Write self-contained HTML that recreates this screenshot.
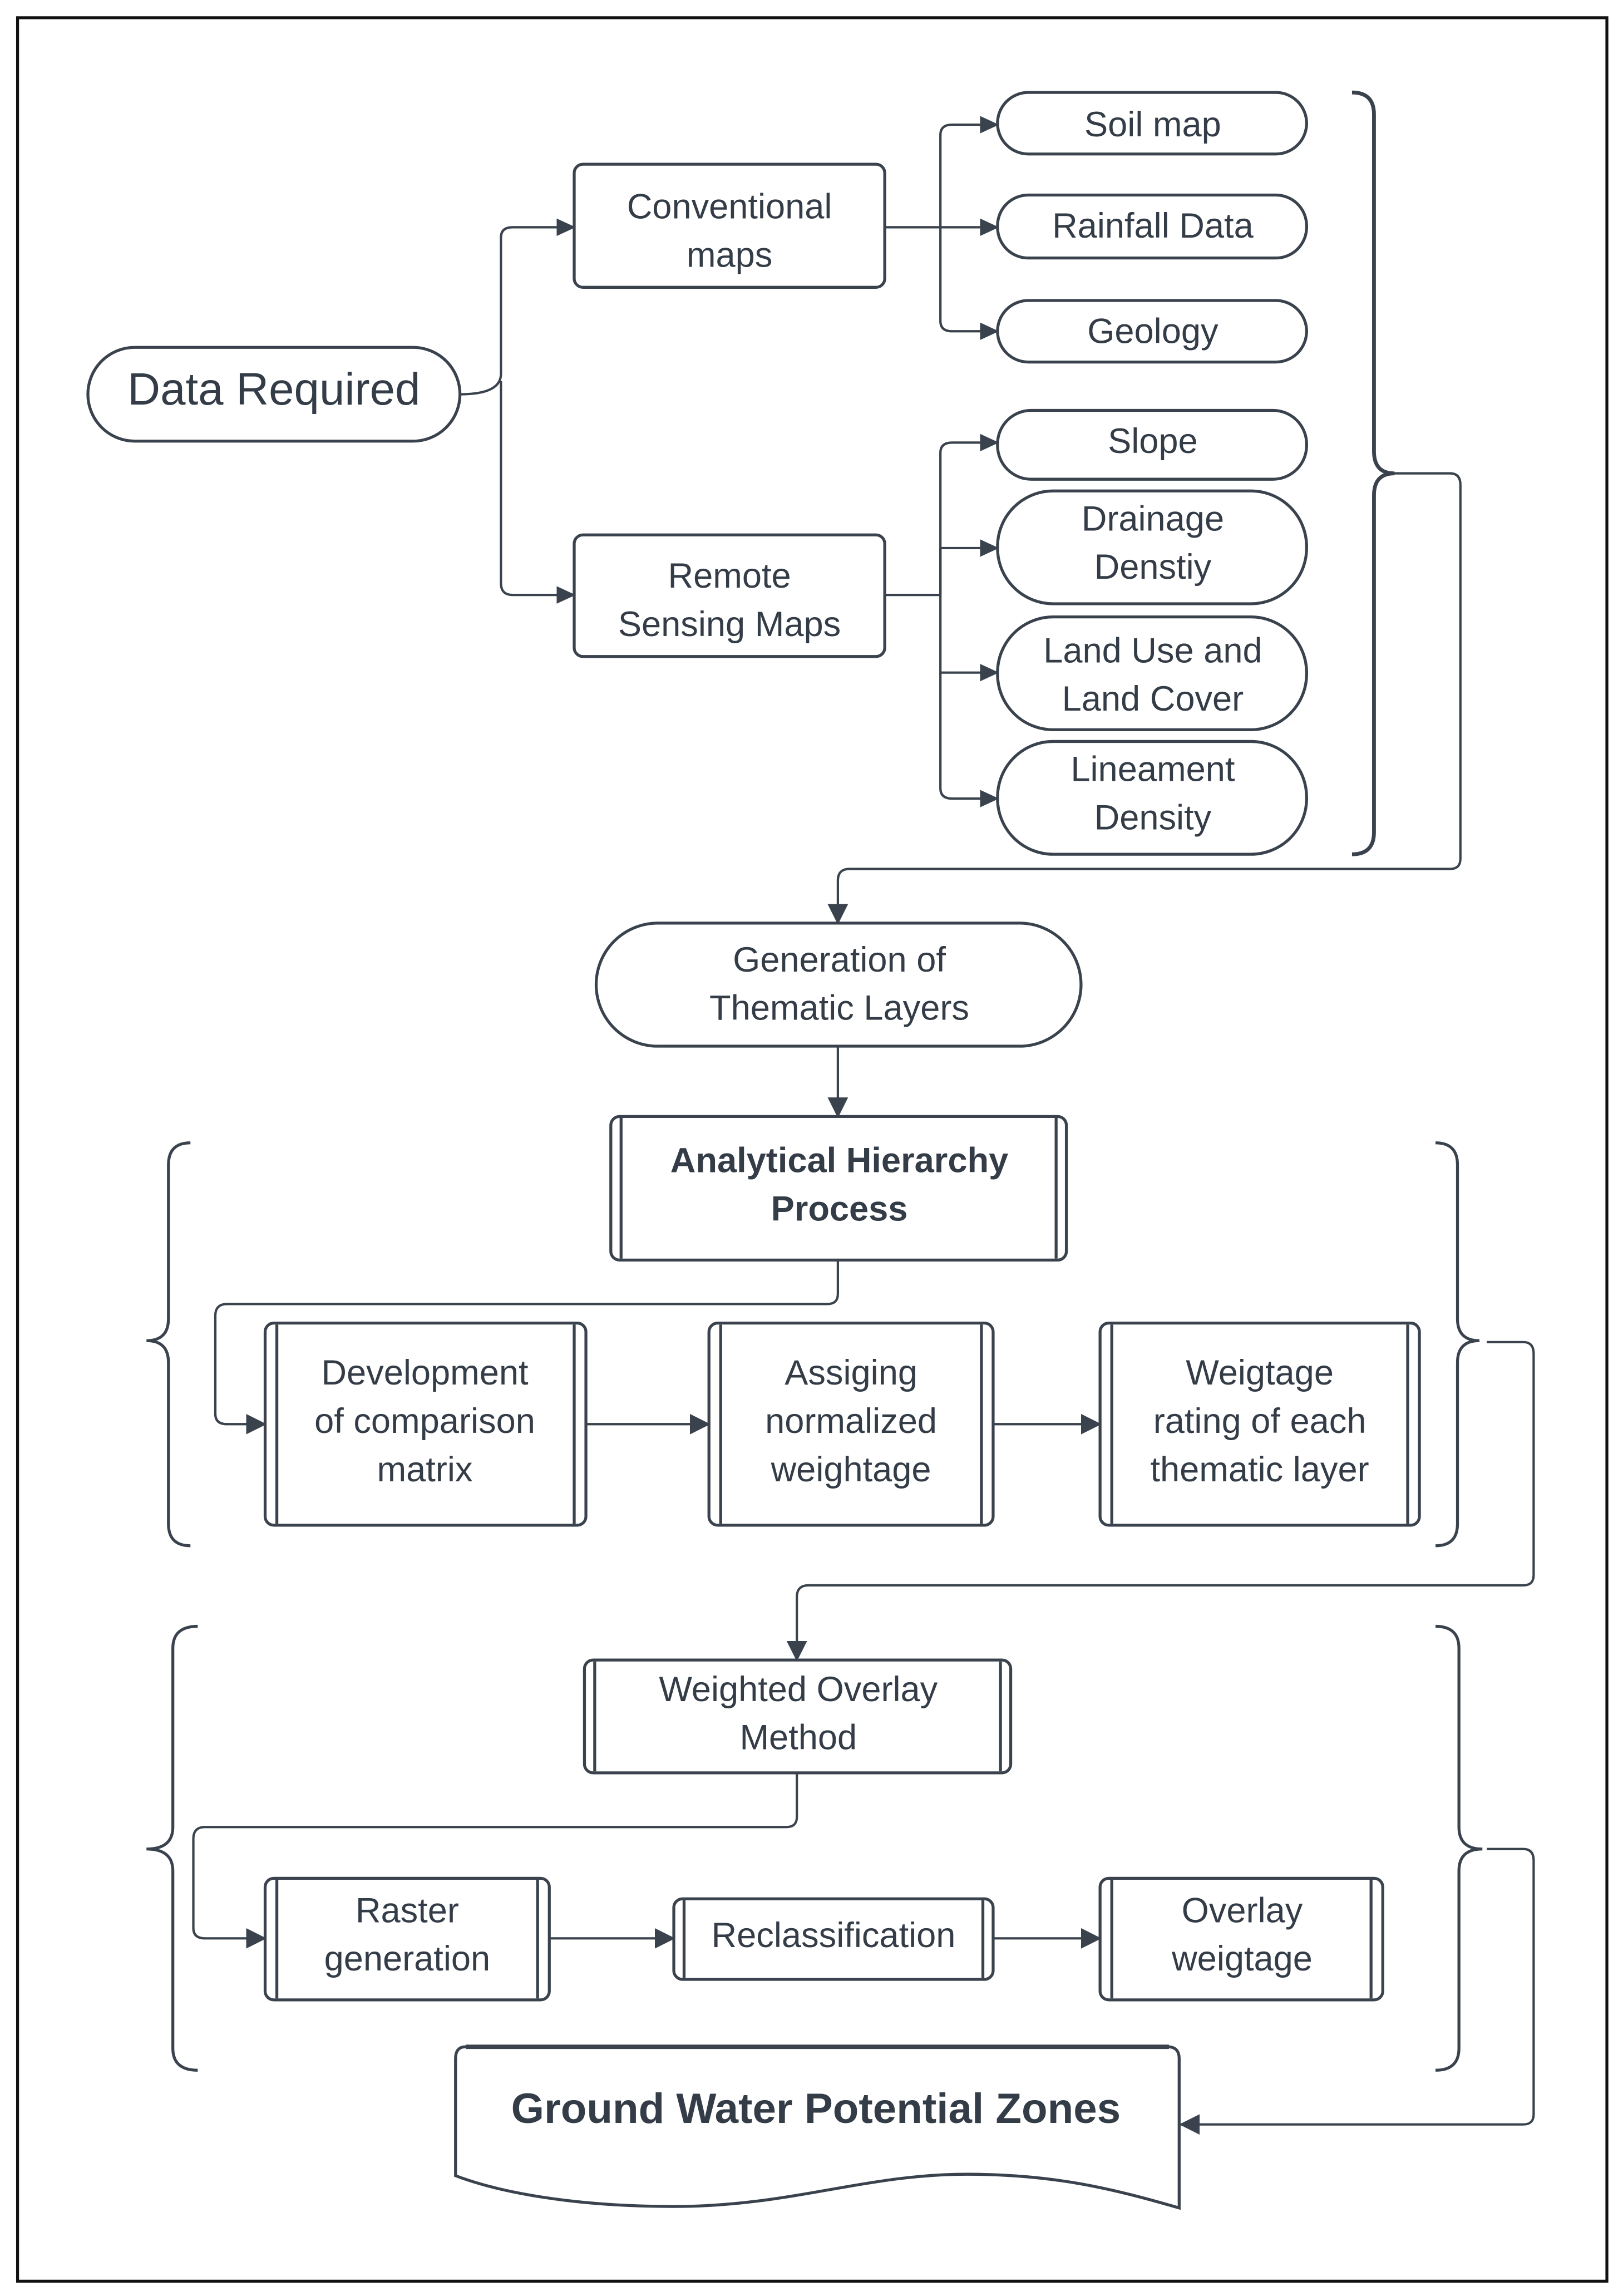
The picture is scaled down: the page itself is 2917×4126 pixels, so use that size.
<!DOCTYPE html>
<html><head><meta charset="utf-8"><style>
html,body{margin:0;padding:0;background:#fff}
svg{display:block}
text{font-family:"Liberation Sans",sans-serif;fill:#343d47;text-anchor:middle}
</style></head><body>
<svg width="2917" height="4126" viewBox="0 0 1108 1567" xmlns="http://www.w3.org/2000/svg">
<defs><marker id="a" markerWidth="13" markerHeight="12" refX="12" refY="6" orient="auto" markerUnits="userSpaceOnUse"><path d="M0,0 L13,6 L0,12 z" fill="#3a434d"/></marker>
<marker id="b" markerWidth="14" markerHeight="14" refX="13" refY="7" orient="auto" markerUnits="userSpaceOnUse"><path d="M0,0 L14,7 L0,14 z" fill="#3a434d"/></marker></defs>
<rect x="0" y="0" width="1108" height="1567" fill="#fff"/>
<rect x="12" y="12" width="1085" height="1545" fill="none" stroke="#111" stroke-width="2"/>
<g fill="none" stroke="#3a434d" stroke-width="2">
<rect x="60" y="237" width="254" height="64" rx="32"/>
<rect x="392" y="112" width="212" height="84" rx="6"/>
<rect x="392" y="365" width="212" height="83" rx="6"/>
<rect x="681" y="63" width="211" height="42" rx="21"/>
<rect x="681" y="133" width="211" height="43" rx="21"/>
<rect x="681" y="205" width="211" height="42" rx="21"/>
<rect x="681" y="280" width="211" height="47" rx="23"/>
<rect x="681" y="335" width="211" height="77" rx="38"/>
<rect x="681" y="421" width="211" height="77" rx="38"/>
<rect x="681" y="506" width="211" height="77" rx="38"/>
<rect x="407" y="630" width="331" height="84" rx="42"/>
<rect x="417" y="762" width="311" height="98" rx="6"/><line x1="424" y1="763" x2="424" y2="859"/><line x1="721" y1="763" x2="721" y2="859"/>
<rect x="181" y="903" width="219" height="138" rx="6"/><line x1="189" y1="904" x2="189" y2="1040"/><line x1="392" y1="904" x2="392" y2="1040"/>
<rect x="484" y="903" width="194" height="138" rx="6"/><line x1="492" y1="904" x2="492" y2="1040"/><line x1="670" y1="904" x2="670" y2="1040"/>
<rect x="751" y="903" width="218" height="138" rx="6"/><line x1="759" y1="904" x2="759" y2="1040"/><line x1="961" y1="904" x2="961" y2="1040"/>
<rect x="399" y="1133" width="291" height="77" rx="6"/><line x1="406" y1="1134" x2="406" y2="1209"/><line x1="683" y1="1134" x2="683" y2="1209"/>
<rect x="181" y="1282" width="194" height="83" rx="6"/><line x1="189" y1="1283" x2="189" y2="1364"/><line x1="367" y1="1283" x2="367" y2="1364"/>
<rect x="460" y="1296" width="218" height="55" rx="6"/><line x1="467" y1="1297" x2="467" y2="1350"/><line x1="671" y1="1297" x2="671" y2="1350"/>
<rect x="751" y="1282" width="193" height="83" rx="6"/><line x1="759" y1="1283" x2="759" y2="1364"/><line x1="936" y1="1283" x2="936" y2="1364"/>
<path d="M318,1397 H797 Q805,1397 805,1405 V1507 C760,1494 720,1484 660,1484 C590,1484 540,1506 460,1506 C390,1506 340,1496 311,1485 V1405 Q311,1397 318,1397 Z"/>
<path d="M318,1397 H798" stroke-width="3"/>
<g stroke-width="1.6">
<path d="M314,269 Q342,269 342,255 V162 Q342,155 350,155 H392" marker-end="url(#a)"/>
<path d="M342,260 V398 Q342,406 350,406 H392" marker-end="url(#a)"/>
<path d="M604,155 H642 M642,155 V92 Q642,85 650,85 H681" marker-end="url(#a)"/>
<path d="M642,155 H681" marker-end="url(#a)"/>
<path d="M642,155 V219 Q642,226 650,226 H681" marker-end="url(#a)"/>
<path d="M604,406 H642 M642,406 V309 Q642,302 650,302 H681" marker-end="url(#a)"/>
<path d="M642,374 H681" marker-end="url(#a)"/>
<path d="M642,374 V459 H681" marker-end="url(#a)"/>
<path d="M642,459 V538 Q642,545 650,545 H681" marker-end="url(#a)"/>
<path d="M945,323 H990 Q997,323 997,331 V586 Q997,593 990,593 H580 Q572,593 572,601 V630" marker-end="url(#b)"/>
<path d="M572,714 V762" marker-end="url(#b)"/>
<path d="M572,860 V883 Q572,890 565,890 H155 Q147,890 147,898 V965 Q147,972 155,972 H181" marker-end="url(#b)"/>
<path d="M400,972 H484" marker-end="url(#b)"/>
<path d="M678,972 H751" marker-end="url(#b)"/>
<path d="M1015,916 H1040 Q1047,916 1047,924 V1075 Q1047,1082 1040,1082 H552 Q544,1082 544,1090 V1133" marker-end="url(#b)"/>
<path d="M544,1210 V1240 Q544,1247 537,1247 H140 Q132,1247 132,1255 V1316 Q132,1323 140,1323 H181" marker-end="url(#b)"/>
<path d="M375,1323 H460" marker-end="url(#b)"/>
<path d="M678,1323 H751" marker-end="url(#b)"/>
<path d="M1015,1262 H1040 Q1047,1262 1047,1270 V1443 Q1047,1450 1040,1450 H806" marker-end="url(#b)"/>
</g>
<path d="M923,63 Q938,63 938,78 V308 Q938,323 952,323 Q938,323 938,338 V568 Q938,583 923,583" stroke-width="2.6"/>
<path d="M130,780 Q115,780 115,795 V900 Q115,915 100,915 Q115,915 115,930 V1040 Q115,1055 130,1055"/>
<path d="M980,780 Q995,780 995,795 V900 Q995,915 1010,915 Q995,915 995,930 V1040 Q995,1055 980,1055"/>
<path d="M135,1110 Q118,1110 118,1125 V1247 Q118,1262 100,1262 Q118,1262 118,1277 V1398 Q118,1413 135,1413"/>
<path d="M980,1110 Q996,1110 996,1125 V1247 Q996,1262 1012,1262 Q996,1262 996,1277 V1398 Q996,1413 980,1413"/>
</g>
<text x="187" y="276" font-size="31">Data Required</text>
<text x="498" y="149" font-size="24">Conventional</text><text x="498" y="182" font-size="24">maps</text>
<text x="498" y="401" font-size="24">Remote</text><text x="498" y="434" font-size="24">Sensing Maps</text>
<text x="787" y="93" font-size="24">Soil map</text>
<text x="787" y="162" font-size="24">Rainfall Data</text>
<text x="787" y="234" font-size="24">Geology</text>
<text x="787" y="309" font-size="24">Slope</text>
<text x="787" y="362" font-size="24">Drainage</text><text x="787" y="395" font-size="24">Denstiy</text>
<text x="787" y="452" font-size="24">Land Use and</text><text x="787" y="485" font-size="24">Land Cover</text>
<text x="787" y="533" font-size="24">Lineament</text><text x="787" y="566" font-size="24">Density</text>
<text x="573" y="663" font-size="24">Generation of</text><text x="573" y="696" font-size="24">Thematic Layers</text>
<text x="573" y="800" font-size="24" font-weight="bold">Analytical Hierarchy</text><text x="573" y="833" font-size="24" font-weight="bold">Process</text>
<text x="290" y="945" font-size="24">Development</text><text x="290" y="978" font-size="24">of comparison</text><text x="290" y="1011" font-size="24">matrix</text>
<text x="581" y="945" font-size="24">Assiging</text><text x="581" y="978" font-size="24">normalized</text><text x="581" y="1011" font-size="24">weightage</text>
<text x="860" y="945" font-size="24">Weigtage</text><text x="860" y="978" font-size="24">rating of each</text><text x="860" y="1011" font-size="24">thematic layer</text>
<text x="545" y="1161" font-size="24">Weighted Overlay</text><text x="545" y="1194" font-size="24">Method</text>
<text x="278" y="1312" font-size="24">Raster</text><text x="278" y="1345" font-size="24">generation</text>
<text x="569" y="1329" font-size="24">Reclassification</text>
<text x="848" y="1312" font-size="24">Overlay</text><text x="848" y="1345" font-size="24">weigtage</text>
<text x="557" y="1449" font-size="29" font-weight="bold">Ground Water Potential Zones</text>
</svg>
</body></html>
